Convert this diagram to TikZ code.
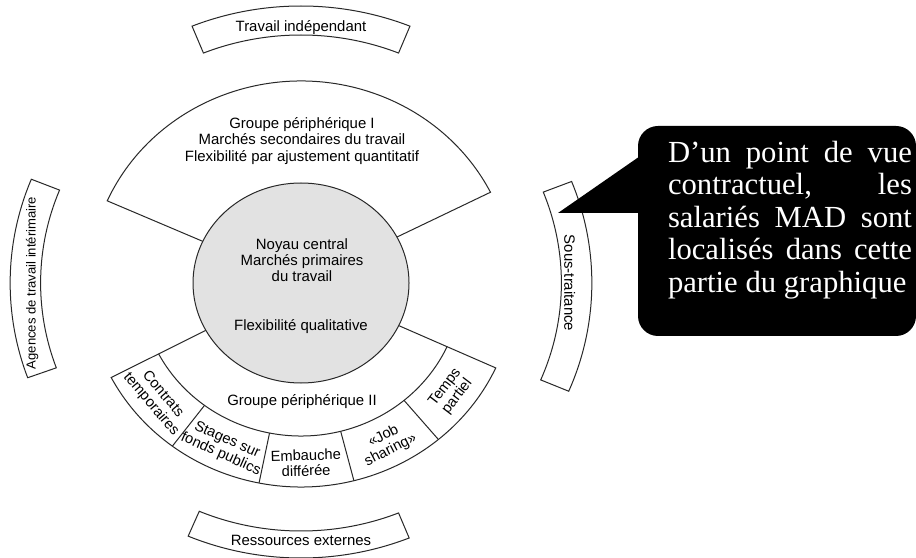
\documentclass[tikz,border=0pt]{standalone}
\usepackage{fontspec}
\setmainfont{Liberation Sans}
\newfontfamily\bullefont{Liberation Serif}
\usetikzlibrary{shapes.geometric,calc}
\definecolor{trait}{RGB}{40,40,40}
\definecolor{noyaugris}{RGB}{226,226,226}

\begin{document}
\begin{tikzpicture}[
    x=0.75pt, y=0.75pt,
    trait/.style={draw=trait, line width=0.75pt},
    secteur/.style={trait, fill=white},
    noyau/.style={ellipse, trait, fill=noyaugris, minimum width=162pt, minimum height=150pt, inner sep=0pt},
    etiq/.style={font=\fontsize{11.2}{12.2}\selectfont, align=center, inner sep=0pt},
    petiteetiq/.style={etiq, font=\fontsize{9.8}{11}\selectfont},
    case/.style={font=\fontsize{11}{11.6}\selectfont, align=center, inner sep=0pt},
    bulle/.style={rectangle, rounded corners=15pt, fill=black, minimum width=208.5pt, minimum height=157.5pt},
    bulletexte/.style={text=white, text width=183pt, align=justify, inner sep=0pt, font=\bullefont\fontsize{23}{24.4}\selectfont}
]

% Background
\useasboundingbox (0,0) rectangle (916,557);
\fill[white] (0,0) rectangle (916,557);

\coordinate (centre) at (301,274);

\begin{scope}[shift={(centre)}, xscale=1.05]
% Groupe peripherique I
\draw[secteur] (0,0) -- (156:202) arc[start angle=156, end angle=26.7, radius=202] -- cycle;

% Groupe peripherique II and its cases
\draw[secteur] (0,0) -- (207.6:204) arc[start angle=207.6, end angle=335.4, radius=204] -- cycle;
\draw[trait] (207.6:153) arc[start angle=207.6, end angle=335.4, radius=153];
\foreach \a in {233.1,258.7,284.3,309.9}
    \draw[trait] (\a:153) -- (\a:204);

% Outer bands
\foreach \a/\b/\r in {68/112/277, 158/200/277, 247/292/275, -23/21.5/277}
    \draw[secteur] (\a:248) arc[start angle=\a, end angle=\b, radius=248]
        -- (\b:\r) arc[start angle=\b, end angle=\a, radius=\r] -- cycle;

\node[etiq] (independant) at (90:255) {Travail indépendant};
\node[petiteetiq, rotate=90] (agences) at (180:256) {Agences de travail intérimaire};
\node[etiq] (ressources) at (270:257) {Ressources externes};
\node[etiq, rotate=-90] (soustraitance) at (0:256) {Sous-traitance};

% Texts of the cases
\foreach \m/\t/\n in {220.3/{Contrats\\temporaires}/contrats,
                      245.9/{Stages sur\\fonds publics}/stages,
                      271.5/{Embauche\\différée}/embauche,
                      297.1/{«Job\\sharing»}/job,
                      322.7/{Temps\\partiel}/temps}
    \node[case, rotate=\m+90] (\n) at (\m:180) {\t};
\end{scope}

% Noyau central
\node[noyau] (noyau) at (centre) {};
\node[etiq] (noyautitre) at (302,297) {Noyau central\\Marchés primaires\\du travail};
\node[etiq] (qualitative) at (301,230) {Flexibilité qualitative};

% Group labels
\node[etiq] (groupeI) at (302,416) {Groupe périphérique I\\Marchés secondaires du travail\\Flexibilité par ajustement quantitatif};
\node[etiq] (groupeII) at (302,155) {Groupe périphérique II};

% Callout
\node[bulle] (bulle) at (777,326) {};
\coordinate (pointe) at (558,344);
\fill[black] (pointe) -- ($(bulle.west)+(14,83)$) -- ($(bulle.west)+(14,18)$) -- cycle;
\node[bulletexte] (avis) at (790,337) {D’un point de vue\linebreak contractuel, les\linebreak salariés MAD sont\linebreak localisés dans cette\linebreak partie du graphique};

\end{tikzpicture}
\end{document}
